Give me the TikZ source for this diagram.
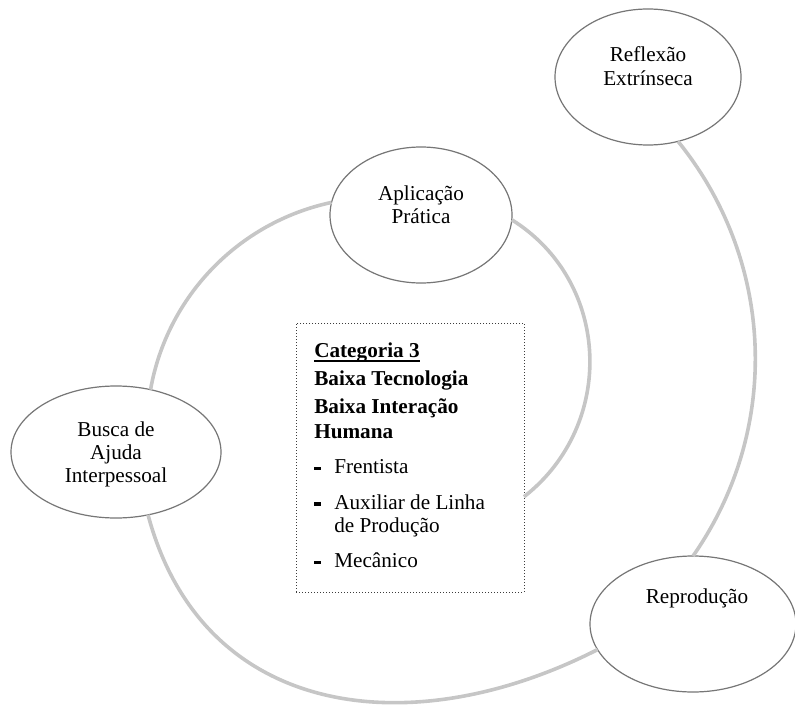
\documentclass[tikz,border=0pt]{standalone}
\usepackage{fontspec}
\setmainfont{Liberation Serif}
\usetikzlibrary{shapes.geometric}
\definecolor{arcgray}{RGB}{198,198,198}
\definecolor{ellgray}{RGB}{118,118,118}
\definecolor{boxdot}{RGB}{60,60,60}
\newcommand\ulbar[1]{\setbox0\hbox{#1}\rlap{\rule[-3.6pt]{\wd0}{1pt}}\box0}
\newcommand\itembar{\makebox[15pt][l]{\rule[2.6pt]{5pt}{2.4pt}}}
\begin{document}
\begin{tikzpicture}[x=0.75pt,y=-0.75pt,
  ell/.style={ellipse, draw=ellgray, line width=0.9pt, fill=white, inner sep=0pt, outer sep=0pt},
  lbl/.style={anchor=base, inner sep=0pt, font=\fontsize{15.9}{17.6}\selectfont},
  cyc/.style={draw=arcgray, line width=2.7pt},
  catbox/.style={draw=boxdot, line width=0.75pt, dash pattern=on 0.75pt off 1.5pt, fill=white, inner sep=0pt, outer sep=0pt}
]
\useasboundingbox (0,0) rectangle (795,706);

\node[ell, minimum width=139.5pt, minimum height=102pt] (refl) at (648,77) {};
\node[ell, minimum width=136.5pt, minimum height=102pt] (apl) at (421,215) {};
\node[ell, minimum width=157.5pt, minimum height=99pt] (busca) at (116,452) {};
\node[ell, minimum width=154.5pt, minimum height=102pt] (repr) at (693,624) {};
\node[catbox, minimum width=171pt, minimum height=201.75pt] (box) at (410,457.5) {};

\draw[cyc] (apl.172) to[out=192,in=80,looseness=0.93] (busca.61);
\draw[cyc] (apl.-3) to[out=-32,in=38,looseness=1.08] (box.-19);
\draw[cyc] (busca.-63) to[out=-75,in=207,looseness=1.15] (repr.195);
\draw[cyc] (refl.-65) to[out=-51,in=55,looseness=0.95] (repr.90);

\node[lbl] (refltxt) at (648,62) {\begin{tabular}[t]{@{}c@{}}Reflexão\\Extrínseca\end{tabular}};
\node[lbl] (apltxt) at (421,200) {\begin{tabular}[t]{@{}c@{}}Aplicação\\Prática\end{tabular}};
\node[lbl] (buscatxt) at (116,436) {\begin{tabular}[t]{@{}c@{}}Busca de\\Ajuda\\Interpessoal\end{tabular}};
\node[lbl] (reprtxt) at (697,603) {Reprodução};

\node[lbl, anchor=base west] (cattxt) at (314,357) {\begin{tabular}[t]{@{}l@{}}
\ulbar{\textbf{Categoria 3}}\\[3.75pt]
\textbf{Baixa Tecnologia}\\[3.75pt]
\textbf{Baixa Interação}\\[1pt]
\textbf{Humana}\\[8.75pt]
\itembar Frentista\\[8.75pt]
\itembar Auxiliar de Linha\\
\hspace*{15pt}de Produção\\[8.75pt]
\itembar Mecânico
\end{tabular}};
\end{tikzpicture}
\end{document}
